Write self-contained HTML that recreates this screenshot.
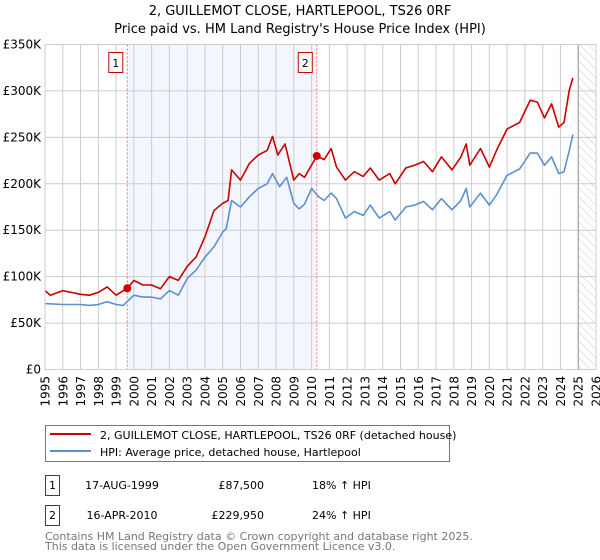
<!DOCTYPE html>
<html><head><meta charset="utf-8"><style>
body{margin:0;background:#fff;font-family:"DejaVu Sans","Liberation Sans",sans-serif;}
svg{display:block}
text{font-family:"DejaVu Sans","Liberation Sans",sans-serif;}
</style></head><body>
<svg id="chart" width="600" height="560" viewBox="0 0 600 560">
<defs><pattern id="hatch" width="6" height="6" patternUnits="userSpaceOnUse" patternTransform="rotate(-45)"><line x1="0" y1="0" x2="0" y2="6" stroke="#ccc" stroke-width="1"/></pattern></defs>
<text x="300" y="15" text-anchor="middle" font-size="13">2, GUILLEMOT CLOSE, HARTLEPOOL, TS26 0RF</text>
<text x="300" y="33" text-anchor="middle" font-size="13">Price paid vs. HM Land Registry's House Price Index (HPI)</text>
<g id="plot"></g>
<g>
<rect x="45.5" y="425.5" width="404" height="36" fill="#fff" stroke="#777"/>
<line x1="50" y1="434" x2="91" y2="434" stroke="#cc0000" stroke-width="2"/>
<text x="100" y="439" font-size="11">2, GUILLEMOT CLOSE, HARTLEPOOL, TS26 0RF (detached house)</text>
<line x1="50" y1="451" x2="91" y2="451" stroke="#5b8fd0" stroke-width="2"/>
<text x="100" y="456" font-size="11">HPI: Average price, detached house, Hartlepool</text>
</g>
<g font-size="11">
<rect x="45.5" y="475.5" width="14" height="20" fill="#fff" stroke="#cc0000"/>
<text x="52.5" y="489" text-anchor="middle">1</text>
<text x="122" y="489" text-anchor="middle">17-AUG-1999</text>
<text x="264" y="489" text-anchor="end">£87,500</text>
<text x="312" y="489">18% ↑ HPI</text>
<rect x="45.5" y="505.5" width="14" height="20" fill="#fff" stroke="#cc0000"/>
<text x="52.5" y="519" text-anchor="middle">2</text>
<text x="122" y="519" text-anchor="middle">16-APR-2010</text>
<text x="264" y="519" text-anchor="end">£229,950</text>
<text x="312" y="519">24% ↑ HPI</text>
</g>
<text x="45" y="540" font-size="11" fill="#777">Contains HM Land Registry data © Crown copyright and database right 2025.</text>
<text x="45" y="550" font-size="11" fill="#777">This data is licensed under the Open Government Licence v3.0.</text>
</svg>
<script>
const hpiYears=[1995,1996,1997,1997.5,1998,1998.5,1999,1999.4,2000,2000.5,2001,2001.5,2002,2002.5,2003,2003.5,2004,2004.5,2005,2005.2,2005.5,2006,2006.5,2007,2007.5,2007.8,2008.2,2008.6,2009,2009.3,2009.6,2010,2010.4,2010.7,2011.1,2011.4,2011.9,2012.4,2012.9,2013.3,2013.8,2014.4,2014.7,2015.3,2015.8,2016.3,2016.8,2017.3,2017.9,2018.4,2018.7,2018.9,2019.5,2020,2020.4,2021,2021.7,2022.3,2022.7,2023.1,2023.5,2023.9,2024.2,2024.5,2024.7];
const hpiValues=[71,70,70,69,70,73,70,69,80,78,78,76,85,80,98,107,121,132,148,152,182,175,186,195,200,211,197,207,179,173,178,195,186,182,190,184,163,170,166,177,163,170,161,175,177,181,172,184,172,182,195,175,190,177,188,209,216,233,233,220,229,211,213,236,253];
const ppYears=[1995,1995.3,1996,1997,1997.5,1998,1998.5,1999,1999.63,2000,2000.5,2001,2001.5,2002,2002.5,2003,2003.5,2004,2004.5,2005,2005.3,2005.5,2006,2006.5,2007,2007.5,2007.8,2008.1,2008.5,2009,2009.3,2009.6,2010.29,2010.4,2010.7,2011.1,2011.4,2011.9,2012.4,2012.9,2013.3,2013.8,2014.4,2014.7,2015.3,2015.8,2016.3,2016.8,2017.3,2017.9,2018.4,2018.7,2018.9,2019.5,2020,2020.4,2021,2021.7,2022.3,2022.7,2023.1,2023.5,2023.9,2024.2,2024.5,2024.7];
const ppValues=[85,80,85,81,80,83,89,80,87.5,96,91,91,87,100,96,111,121,143,171,179,182,215,204,222,231,236,251,231,243,204,211,207,229.95,229,226,238,218,204,213,208,217,204,211,200,217,220,224,213,229,215,229,243,220,238,218,236,259,266,290,288,271,286,261,266,301,314];
const saleYears=[1999.63,2010.29];
const saleValues=[87.5,229.95];
const saleLabels=["1","2"];
const yTicks=[0,50,100,150,200,250,300,350];
const yTickLabels=["£0","£50K","£100K","£150K","£200K","£250K","£300K","£350K"];
const xTicks=[1995,1996,1997,1998,1999,2000,2001,2002,2003,2004,2005,2006,2007,2008,2009,2010,2011,2012,2013,2014,2015,2016,2017,2018,2019,2020,2021,2022,2023,2024,2025,2026];

const X0=45,X1=596,Y0=369.5,Y1=44.5;
const xs=y=>X0+(y-1995)/(2026-1995)*(X1-X0);
const ys=v=>Y0-v/350*(Y0-Y1);
const NS="http://www.w3.org/2000/svg";
const g=document.getElementById('plot');
function mk(t,a,p){const e=document.createElementNS(NS,t);for(const k in a)e.setAttribute(k,a[k]);(p||g).appendChild(e);return e;}
let e=mk('rect',{x:xs(saleYears[0]),y:Y1,width:xs(saleYears[1])-xs(saleYears[0]),height:Y0-Y1,fill:'#eef3fc',opacity:0.7});


e=mk('rect',{x:xs(2025),y:Y1,width:X1-xs(2025),height:Y0-Y1,fill:'url(#hatch)'});


yTicks.forEach((t,i)=>{
  e=mk('line',{x1:X0,x2:X1,y1:ys(t),y2:ys(t),stroke:'#ccc','stroke-width':1});
  
  
  e=mk('text',{x:X0-4,y:ys(t)+4,'text-anchor':'end','font-size':12});
  e.textContent=yTickLabels[i];
  
  
});
xTicks.forEach(t=>{
  e=mk('line',{x1:xs(t),x2:xs(t),y1:Y1,y2:Y0,stroke:'#ccc','stroke-width':1});
  
  
  const tx=xs(t)+4.5, ty=376;
  e=mk('text',{x:tx,y:ty,'text-anchor':'end','font-size':12,transform:'rotate(-90 '+tx+' '+ty+')'});
  e.textContent=String(t);
  
  
});
e=mk('line',{x1:xs(2025),x2:xs(2025),y1:Y1,y2:Y0,stroke:'#999','stroke-width':1});


saleYears.forEach((s,i)=>{
  e=mk('line',{x1:xs(s),x2:xs(s),y1:Y1,y2:Y0,stroke:'#f07070','stroke-width':1,'stroke-dasharray':'2,2'});
  
  
  e=mk('rect',{x:xs(s)-18.5,y:52.5,width:14,height:20,fill:'#fff',stroke:'#cc0000'});
  
  
  e=mk('text',{x:xs(s)-11.5,y:67,'text-anchor':'middle','font-size':11});
  e.textContent=saleLabels[i];
  
  
});
function path(xa,va,col,name){
  const d=xa.map((y,i)=>(i?'L':'M')+xs(y).toFixed(1)+','+ys(va[i]).toFixed(1)).join('');
  const p=mk('path',{d:d,fill:'none',stroke:col,'stroke-width':1.6,'stroke-linejoin':'round'});
  
  
}
path(hpiYears,hpiValues,'#5b8fd0','hpi-line');
path(ppYears,ppValues,'#cc0000','price-paid-line');
saleYears.forEach((s,i)=>{
  e=mk('circle',{cx:xs(s),cy:ys(saleValues[i]),r:4,fill:'#cc0000'});
  
  
});
e=mk('rect',{x:X0,y:Y1,width:X1-X0,height:Y0-Y1,fill:'none',stroke:'#ccc'});


</script>
</body></html>
